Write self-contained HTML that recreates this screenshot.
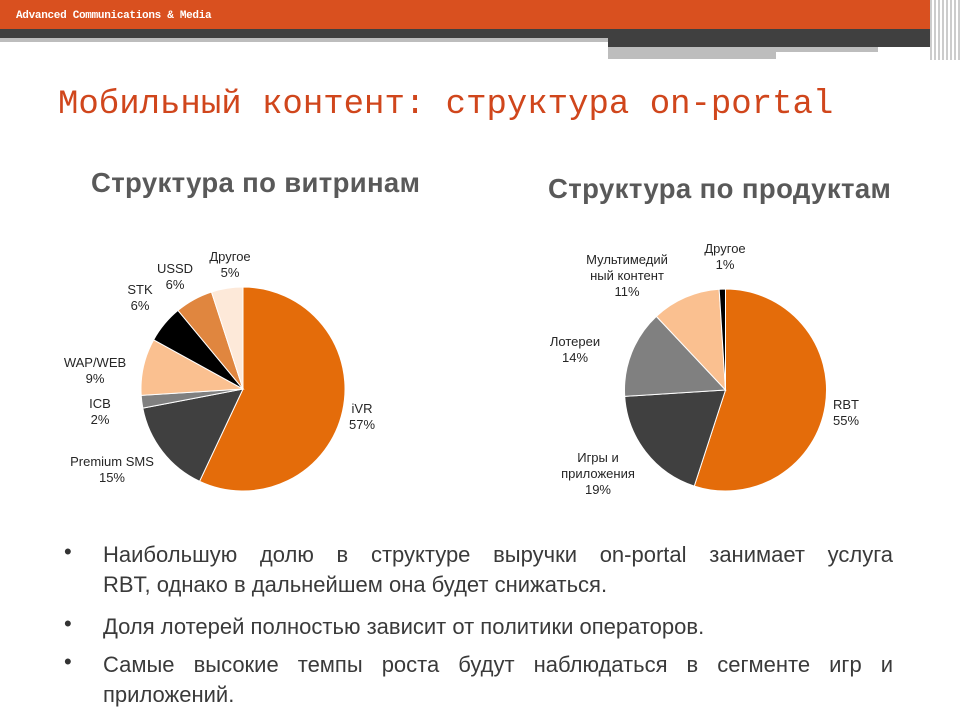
<!DOCTYPE html>
<html><head><meta charset="utf-8"><style>
body{margin:0;width:960px;height:720px;background:#fff;position:relative;overflow:hidden;font-family:"Liberation Sans","DejaVu Sans",sans-serif}
.a{position:absolute}
.lbl{position:absolute;font-size:13px;color:#262626;text-align:center;line-height:16px;transform:translateX(-50%);white-space:nowrap}
.b{position:absolute;left:103px;width:790px;font-size:22px;color:#3a3a3a;line-height:30px;text-align:justify;text-align-last:left}
.dot{position:absolute;left:64px;font-size:22px;color:#333}
</style></head><body>
<div class="a" style="left:0;top:0;width:960px;height:29px;background:#d9501f"></div>
<div class="a" style="left:16px;top:10px;font-family:'Liberation Mono',monospace;font-size:11px;color:#fff;font-weight:bold;letter-spacing:-0.3px">Advanced Communications &amp; Media</div>
<div class="a" style="left:0;top:29px;width:960px;height:9px;background:#404040"></div>
<div class="a" style="left:0;top:38px;width:608px;height:4px;background:#bdbdbd"></div>
<div class="a" style="left:608px;top:38px;width:352px;height:9px;background:#404040"></div>
<div class="a" style="left:608px;top:47px;width:270px;height:5px;background:#bdbdbd"></div>
<div class="a" style="left:608px;top:52px;width:168px;height:7px;background:#bdbdbd"></div>
<div class="a" style="left:930px;top:0;width:30px;height:60px;background:repeating-linear-gradient(90deg,#ccc 0 2px,#fff 2px 4px)"></div>
<div class="a" style="left:58px;top:86px;font-family:'Liberation Mono',monospace;font-size:34px;color:#d0461c;white-space:nowrap">Мобильный контент: структура on-portal</div>
<div class="a" style="left:91px;top:167px;font-size:27.5px;font-weight:bold;color:#595959;letter-spacing:0.35px">Структура по витринам</div>
<div class="a" style="left:548px;top:173px;font-size:27.5px;font-weight:bold;color:#595959;letter-spacing:0.4px">Структура по продуктам</div>
<svg class="a" style="left:0;top:0" width="960" height="720" id="s"></svg>
<div class="lbl" style="left:230px;top:249px">Другое<br>5%</div>
<div class="lbl" style="left:175px;top:261px">USSD<br>6%</div>
<div class="lbl" style="left:140px;top:282px">STK<br>6%</div>
<div class="lbl" style="left:95px;top:355px">WAP/WEB<br>9%</div>
<div class="lbl" style="left:100px;top:396px">ICB<br>2%</div>
<div class="lbl" style="left:112px;top:454px">Premium SMS<br>15%</div>
<div class="lbl" style="left:362px;top:401px">iVR<br>57%</div>
<div class="lbl" style="left:725px;top:241px">Другое<br>1%</div>
<div class="lbl" style="left:627px;top:252px">Мультимедий<br>ный контент<br>11%</div>
<div class="lbl" style="left:575px;top:334px">Лотереи<br>14%</div>
<div class="lbl" style="left:598px;top:450px">Игры и<br>приложения<br>19%</div>
<div class="lbl" style="left:846px;top:397px">RBT<br>55%</div>
<div class="dot" style="top:539px">•</div>
<div class="b" style="top:540px">Наибольшую долю в структуре выручки on-portal занимает услуга<br style="display:none"> <span style="white-space:nowrap">RBT, однако</span> в дальнейшем она будет снижаться.</div>
<div class="dot" style="top:611px">•</div>
<div class="b" style="top:612px">Доля лотерей полностью зависит от политики операторов.</div>
<div class="dot" style="top:649px">•</div>
<div class="b" style="top:650px">Самые высокие темпы роста будут наблюдаться в сегменте игр и приложений.</div>
<script>
function pie(cx,cy,r,data){var s=document.getElementById('s'),a=0,h='';
data.forEach(function(d){var a2=a+d[0]/100*2*Math.PI;
var x1=cx+r*Math.sin(a),y1=cy-r*Math.cos(a),x2=cx+r*Math.sin(a2),y2=cy-r*Math.cos(a2);
h+='<path d="M'+cx+' '+cy+'L'+x1+' '+y1+'A'+r+' '+r+' 0 '+((a2-a)>Math.PI?1:0)+' 1 '+x2+' '+y2+'Z" fill="'+d[1]+'" stroke="#fff" stroke-width="1"/>';a=a2;});
s.innerHTML+=h;}
pie(243,389,102,[[57,'#e46c0a'],[15,'#404040'],[2,'#808080'],[9,'#fac090'],[6,'#000'],[6,'#e0863f'],[5,'#fde9d9']]);
pie(725.5,390,101,[[55,'#e46c0a'],[19,'#404040'],[14,'#808080'],[11,'#fac090'],[1,'#000']]);
</script>
</body></html>
